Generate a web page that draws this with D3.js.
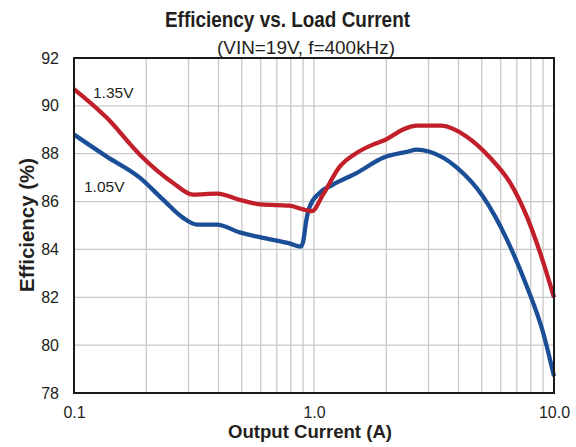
<!DOCTYPE html>
<html>
<head>
<meta charset="utf-8">
<script src="https://cdn.jsdelivr.net/npm/d3@7"></script>
<style>
  body { margin: 0; background: #fff; }
  svg { font-family: Arial, "Liberation Sans", sans-serif; }
</style>
</head>
<body>
<svg></svg>
<script>
// 1.35V curve
const redCurrent = [0.1, 0.137, 0.188, 0.258, 0.313, 0.394, 0.5, 0.6, 0.79, 0.9, 0.98, 1.09, 1.28, 1.51, 1.76, 1.94, 2.44, 2.68, 3.4, 4.33, 5.42, 6.56, 7.7, 8.74, 10];
const redEff = [90.7, 89.5, 87.96, 86.79, 86.29, 86.33, 86.05, 85.88, 85.83, 85.67, 85.6, 86.29, 87.46, 88.04, 88.38, 88.54, 89.08, 89.17, 89.17, 88.71, 87.83, 86.79, 85.38, 83.88, 82.0];

// 1.05V curve
const blueCurrent = [0.1, 0.137, 0.188, 0.235, 0.284, 0.326, 0.394, 0.49, 0.6, 0.79, 0.88, 0.9, 0.93, 0.96, 1.06, 1.2, 1.51, 1.94, 2.44, 2.68, 3.03, 3.94, 5.06, 6.36, 7.7, 9.0, 10];
const blueEff = [88.8, 87.88, 87.0, 86.08, 85.33, 85.04, 85.04, 84.71, 84.5, 84.25, 84.12, 84.3, 85.25, 85.79, 86.38, 86.71, 87.2, 87.83, 88.08, 88.17, 88.08, 87.42, 86.21, 84.42, 82.46, 80.54, 78.7];

const yTicks = [78, 80, 82, 84, 86, 88, 90, 92];
const xTickLabels = [[0.1, '0.1'], [1, '1.0'], [10, '10.0']];
const xGrid = [0.2, 0.3, 0.4, 0.5, 0.6, 0.7, 0.8, 0.9, 1, 2, 3, 4, 5, 6, 7, 8, 9];

const width = 576;
const height = 447;
const plotLeft = 74, plotRight = 554, plotTop = 58, plotBottom = 393;
const ink = '#231f20';

const svg = d3.select('svg').attr('width', width).attr('height', height);

const xScale = d3.scaleLog().domain([0.1, 10]).range([plotLeft, plotRight]);
const yScale = d3.scaleLinear().domain([78, 92]).range([plotBottom, plotTop]);

// grid
svg.append('g')
  .selectAll('line')
  .data(xGrid)
  .enter()
  .append('line')
  .attr('x1', d => xScale(d)).attr('x2', d => xScale(d))
  .attr('y1', plotTop).attr('y2', plotBottom)
  .attr('stroke', '#c8c8c8').attr('stroke-width', 1.3);

svg.append('g')
  .selectAll('line')
  .data(yTicks.slice(1, -1))
  .enter()
  .append('line')
  .attr('x1', plotLeft).attr('x2', plotRight)
  .attr('y1', d => yScale(d)).attr('y2', d => yScale(d))
  .attr('stroke', '#c8c8c8').attr('stroke-width', 1.3);

// curves
const line = d3.line()
  .x(d => xScale(d[0]))
  .y(d => yScale(d[1]))
  .curve(d3.curveMonotoneX);

svg.append('path')
  .datum(blueCurrent.map((c, i) => [c, blueEff[i]]))
  .attr('d', line)
  .attr('fill', 'none').attr('stroke', '#1a4e97').attr('stroke-width', 4.3);

svg.append('path')
  .datum(redCurrent.map((c, i) => [c, redEff[i]]))
  .attr('d', line)
  .attr('fill', 'none').attr('stroke', '#c11f2a').attr('stroke-width', 4.3);

// frame
svg.append('rect')
  .attr('x', plotLeft).attr('y', plotTop)
  .attr('width', plotRight - plotLeft).attr('height', plotBottom - plotTop)
  .attr('fill', 'none').attr('stroke', '#1a1a1a').attr('stroke-width', 2);

// axes (labels only)
const yAxis = d3.axisLeft(yScale).tickValues(yTicks).tickSize(0).tickPadding(15);
svg.append('g')
  .attr('transform', 'translate(' + plotLeft + ',0)')
  .call(yAxis)
  .call(g => g.select('.domain').remove())
  .selectAll('text')
  .attr('font-size', 16).attr('fill', ink).attr('font-family', 'Arial, "Liberation Sans", sans-serif');

const xAxis = d3.axisBottom(xScale)
  .tickValues(xTickLabels.map(d => d[0]))
  .tickFormat((d, i) => xTickLabels[i][1])
  .tickSize(0).tickPadding(14);
svg.append('g')
  .attr('transform', 'translate(0,' + plotBottom + ')')
  .call(xAxis)
  .call(g => g.select('.domain').remove())
  .selectAll('text')
  .attr('font-size', 16).attr('fill', ink).attr('font-family', 'Arial, "Liberation Sans", sans-serif');

// titles
svg.append('text')
  .attr('x', 287.5).attr('y', 27)
  .attr('text-anchor', 'middle')
  .attr('font-size', 22).attr('font-weight', 'bold').attr('fill', ink)
  .attr('textLength', 245).attr('lengthAdjust', 'spacingAndGlyphs')
  .text('Efficiency vs. Load Current');

svg.append('text')
  .attr('x', 306).attr('y', 54)
  .attr('text-anchor', 'middle')
  .attr('font-size', 18.5).attr('fill', ink)
  .attr('textLength', 178).attr('lengthAdjust', 'spacingAndGlyphs')
  .text('(VIN=19V, f=400kHz)');

svg.append('text')
  .attr('x', 310).attr('y', 438)
  .attr('text-anchor', 'middle')
  .attr('font-size', 19).attr('font-weight', 'bold').attr('fill', ink)
  .attr('textLength', 164).attr('lengthAdjust', 'spacingAndGlyphs')
  .text('Output Current (A)');

svg.append('text')
  .attr('transform', 'translate(34,225) rotate(-90)')
  .attr('text-anchor', 'middle')
  .attr('font-size', 20).attr('font-weight', 'bold').attr('fill', ink)
  .attr('textLength', 134).attr('lengthAdjust', 'spacingAndGlyphs')
  .text('Efficiency (%)');

// series labels
svg.append('text')
  .attr('x', 93).attr('y', 98)
  .attr('font-size', 15.5).attr('fill', ink)
  .text('1.35V');

svg.append('text')
  .attr('x', 84).attr('y', 192)
  .attr('font-size', 15.5).attr('fill', ink)
  .text('1.05V');
</script>
</body>
</html>
